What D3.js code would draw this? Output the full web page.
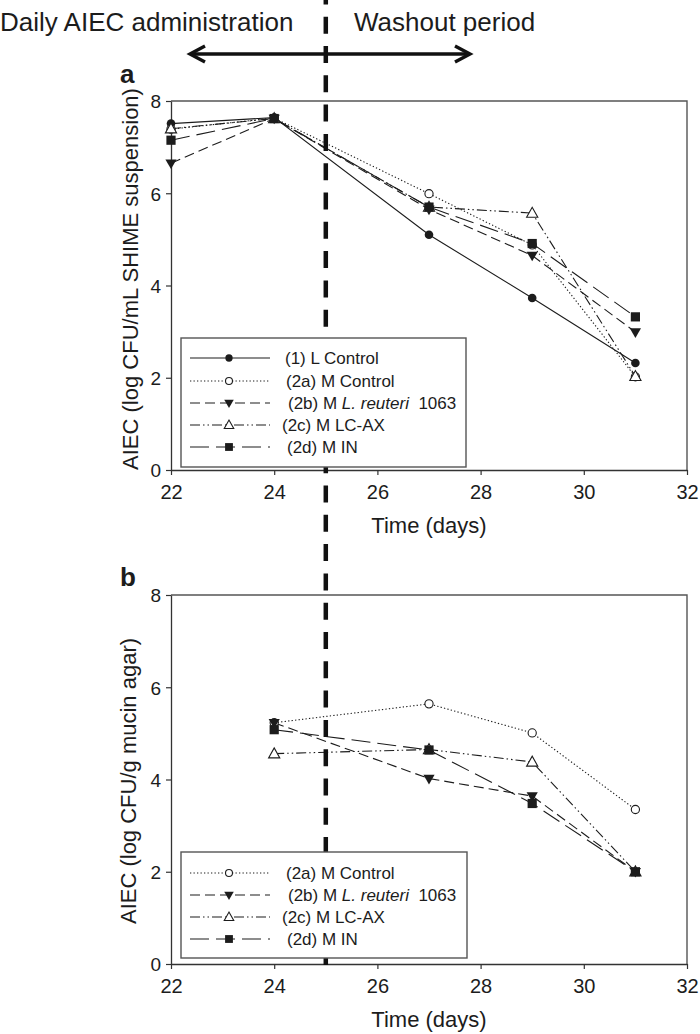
<!DOCTYPE html>
<html><head><meta charset="utf-8">
<script src="https://cdn.jsdelivr.net/npm/d3@7"></script>
<style>
body{margin:0;background:#fff}
svg{display:block;font-family:"Liberation Sans",Arial,sans-serif}
</style>
</head><body>
<svg id="c" width="700" height="1034"></svg>
<script>
// ---------- data ----------
const daysA = [22, 24, 27, 29, 31];
const daysB = [24, 27, 29, 31];
const lControlA = [7.51, 7.64, 5.10, 3.73, 2.32];
const mControlA = [7.39, 7.63, 5.99, 4.88, 2.02];
const mReuteriA = [6.65, 7.62, 5.65, 4.65, 2.99];
const mLcaxA    = [7.40, 7.62, 5.70, 5.57, 2.03];
const mInA      = [7.15, 7.62, 5.70, 4.91, 3.32];
const mControlB = [5.23, 5.64, 5.01, 3.35];
const mReuteriB = [5.23, 4.02, 3.64, 2.00];
const mLcaxB    = [4.56, 4.65, 4.38, 2.00];
const mInB      = [5.08, 4.64, 3.48, 2.00];
const xTicks = [22, 24, 26, 28, 30, 32];
const yTicks = [0, 2, 4, 6, 8];
const washoutStart = 25;
const seriesNames = ["(1) L Control", "(2a) M Control", "(2b) M L. reuteri 1063", "(2c) M LC-AX", "(2d) M IN"];

// ---------- styles ----------
const ink = "#1c1c1c";
const styles = {
  "(1) L Control":          {dash: null,                 marker: "circleFill"},
  "(2a) M Control":         {dash: "1.3,2.2",            marker: "circleOpen"},
  "(2b) M L. reuteri 1063": {dash: "10,5",               marker: "triDown"},
  "(2c) M LC-AX":           {dash: "10,3,1.5,3,1.5,3",   marker: "triUp"},
  "(2d) M IN":              {dash: "19,7",               marker: "square"}
};

const svg = d3.select("#c");
const xRange = [171, 687];

function drawMarker(g, type, cx, cy, s) {
  s = s || 1;
  if (type === "circleFill") {
    g.append("circle").attr("cx", cx).attr("cy", cy).attr("r", 4.3 * s).attr("fill", ink);
  } else if (type === "circleOpen") {
    g.append("circle").attr("cx", cx).attr("cy", cy).attr("r", 4.1 * s)
      .attr("fill", "#fff").attr("stroke", ink).attr("stroke-width", 1.1);
  } else if (type === "triDown") {
    const w = 5.6 * s, h1 = 3.8 * s, h2 = 5.8 * s;
    g.append("path").attr("d", `M${cx - w},${cy - h1}L${cx + w},${cy - h1}L${cx},${cy + h2}Z`).attr("fill", ink);
  } else if (type === "triUp") {
    const w = 5.6 * s, h1 = 4.2 * s, h2 = 5.8 * s;
    g.append("path").attr("d", `M${cx - w},${cy + h1}L${cx + w},${cy + h1}L${cx},${cy - h2}Z`)
      .attr("fill", "#fff").attr("stroke", ink).attr("stroke-width", 1.1);
  } else if (type === "square") {
    const a = 4.6 * s;
    g.append("rect").attr("x", cx - a).attr("y", cy - a).attr("width", 2 * a).attr("height", 2 * a).attr("fill", ink);
  }
}

function panel(cfg) {
  const x = d3.scaleLinear().domain([22, 32]).range(xRange);
  const y = d3.scaleLinear().domain([0, 8]).range([cfg.bottom, cfg.top]);
  const g = svg.append("g");

  // frame top & right
  g.append("path").attr("d", `M${xRange[0]},${cfg.top}H${xRange[1]}V${cfg.bottom}`)
    .attr("fill", "none").attr("stroke", "#555").attr("stroke-width", 1.4);

  const ax = g.append("g").attr("transform", `translate(0,${cfg.bottom})`)
    .call(d3.axisBottom(x).tickValues(xTicks).tickSize(5).tickSizeOuter(0).tickPadding(10));
  const ay = g.append("g").attr("transform", `translate(${xRange[0]},0)`)
    .call(d3.axisLeft(y).tickValues(yTicks).tickSize(5).tickSizeOuter(0).tickPadding(5));
  [ax, ay].forEach(a => {
    a.selectAll("path.domain").attr("stroke", "#333").attr("stroke-width", 1.3);
    a.selectAll(".tick line").attr("stroke", "#333").attr("stroke-width", 1.2);
    a.selectAll("text").attr("fill", ink).attr("font-family", "Liberation Sans, Arial, sans-serif");
  });
  ax.selectAll("text").attr("font-size", 20);
  ay.selectAll("text").attr("font-size", 19).attr("dy", "0.36em");

  // axis titles
  g.append("text").attr("x", (xRange[0] + xRange[1]) / 2).attr("y", cfg.bottom + 63)
    .attr("text-anchor", "middle").attr("font-size", 22).attr("fill", ink).text("Time (days)");
  g.append("text").attr("transform", `translate(${cfg.ytitleX},${cfg.ytitleY}) rotate(-90)`)
    .attr("text-anchor", "middle").attr("font-size", 22).attr("fill", ink).text(cfg.ytitle);

  // panel letter
  g.append("text").attr("x", 120).attr("y", cfg.letterY).attr("font-size", 26)
    .attr("font-weight", "bold").attr("fill", ink).text(cfg.letter);

  // series lines
  const line = d3.line().x(d => x(d[0])).y(d => y(d[1]));
  cfg.series.forEach(s => {
    const st = styles[s.name];
    const pts = s.days.map((d, i) => [d, s.values[i]]);
    g.append("path").datum(pts).attr("d", line).attr("fill", "none")
      .attr("stroke", ink).attr("stroke-width", 1.1)
      .attr("stroke-dasharray", st.dash);
  });
  cfg.series.forEach(s => {
    const st = styles[s.name];
    const mg = g.append("g");
    s.days.forEach((d, i) => drawMarker(mg, st.marker, x(d), y(s.values[i]), 1));
  });
  cfg.x = x;
  cfg.g = g;
  return cfg;
}

function legend(cfg) {
  const L = cfg.legend;
  const g = svg.append("g");
  g.append("rect").attr("x", L.x0).attr("y", L.y0).attr("width", L.x1 - L.x0).attr("height", L.y1 - L.y0)
    .attr("fill", "#fff").attr("stroke", "#555").attr("stroke-width", 1.4);
  cfg.series.forEach((s, i) => {
    const st = styles[s.name];
    const cy = L.rows[i];
    g.append("line").attr("x1", 190).attr("x2", 270).attr("y1", cy).attr("y2", cy)
      .attr("stroke", ink).attr("stroke-width", 1.1).attr("stroke-dasharray", st.dash);
    drawMarker(g, st.marker, 229, cy, 0.85);
    const t = g.append("text").attr("x", L.textX[s.name]).attr("y", cy + 6)
      .attr("font-size", 17).attr("fill", ink);
    if (s.name.indexOf("reuteri") >= 0) {
      t.append("tspan").text("(2b) M ");
      t.append("tspan").attr("font-style", "italic").text("L. reuteri");
      t.append("tspan").text("\u00a0 1063");
    } else {
      t.text(s.name);
    }
  });
}

const textX = {"(1) L Control": 285, "(2a) M Control": 286, "(2b) M L. reuteri 1063": 288, "(2c) M LC-AX": 282, "(2d) M IN": 287};

const pa = panel({
  top: 101, bottom: 470, letter: "a", letterY: 83,
  ytitle: "AIEC (log CFU/mL SHIME suspension)", ytitleX: 138, ytitleY: 279,
  series: [
    {name: seriesNames[0], days: daysA, values: lControlA},
    {name: seriesNames[1], days: daysA, values: mControlA},
    {name: seriesNames[2], days: daysA, values: mReuteriA},
    {name: seriesNames[3], days: daysA, values: mLcaxA},
    {name: seriesNames[4], days: daysA, values: mInA}
  ],
  legend: {x0: 181, x1: 466, y0: 338, y1: 467, rows: [358, 381, 403, 425, 447], textX: textX}
});
const pb = panel({
  top: 595, bottom: 964, letter: "b", letterY: 586,
  ytitle: "AIEC (log CFU/g mucin agar)", ytitleX: 136, ytitleY: 781,
  series: [
    {name: seriesNames[1], days: daysB, values: mControlB},
    {name: seriesNames[2], days: daysB, values: mReuteriB},
    {name: seriesNames[3], days: daysB, values: mLcaxB},
    {name: seriesNames[4], days: daysB, values: mInB}
  ],
  legend: {x0: 181, x1: 467, y0: 852, y1: 958, rows: [873, 895, 917, 939], textX: textX}
});

// vertical dashed washout line
const xv = pa.x(washoutStart);
svg.append("line").attr("x1", xv).attr("x2", xv).attr("y1", 0).attr("y2", 965)
  .attr("stroke", "#111").attr("stroke-width", 4.5)
  .attr("stroke-dasharray", "17,12.3").attr("stroke-dashoffset", 12.6);

legend(pa);
legend(pb);

// top annotation
svg.append("text").attr("x", 0).attr("y", 31).attr("font-size", 26).attr("fill", ink).text("Daily AIEC administration");
svg.append("text").attr("x", 354).attr("y", 31).attr("font-size", 26).attr("fill", ink).text("Washout period");
const ay0 = 54, axL = 190, axR = 470;
svg.append("line").attr("x1", axL + 1).attr("x2", axR - 1).attr("y1", ay0).attr("y2", ay0)
  .attr("stroke", "#111").attr("stroke-width", 3.4);
svg.append("path").attr("d", `M${axL + 15},${ay0 - 8}L${axL},${ay0}L${axL + 15},${ay0 + 8}`)
  .attr("fill", "none").attr("stroke", "#111").attr("stroke-width", 3.4).attr("stroke-linejoin", "miter");
svg.append("path").attr("d", `M${axR - 15},${ay0 - 8}L${axR},${ay0}L${axR - 15},${ay0 + 8}`)
  .attr("fill", "none").attr("stroke", "#111").attr("stroke-width", 3.4).attr("stroke-linejoin", "miter");
</script>
</body></html>
